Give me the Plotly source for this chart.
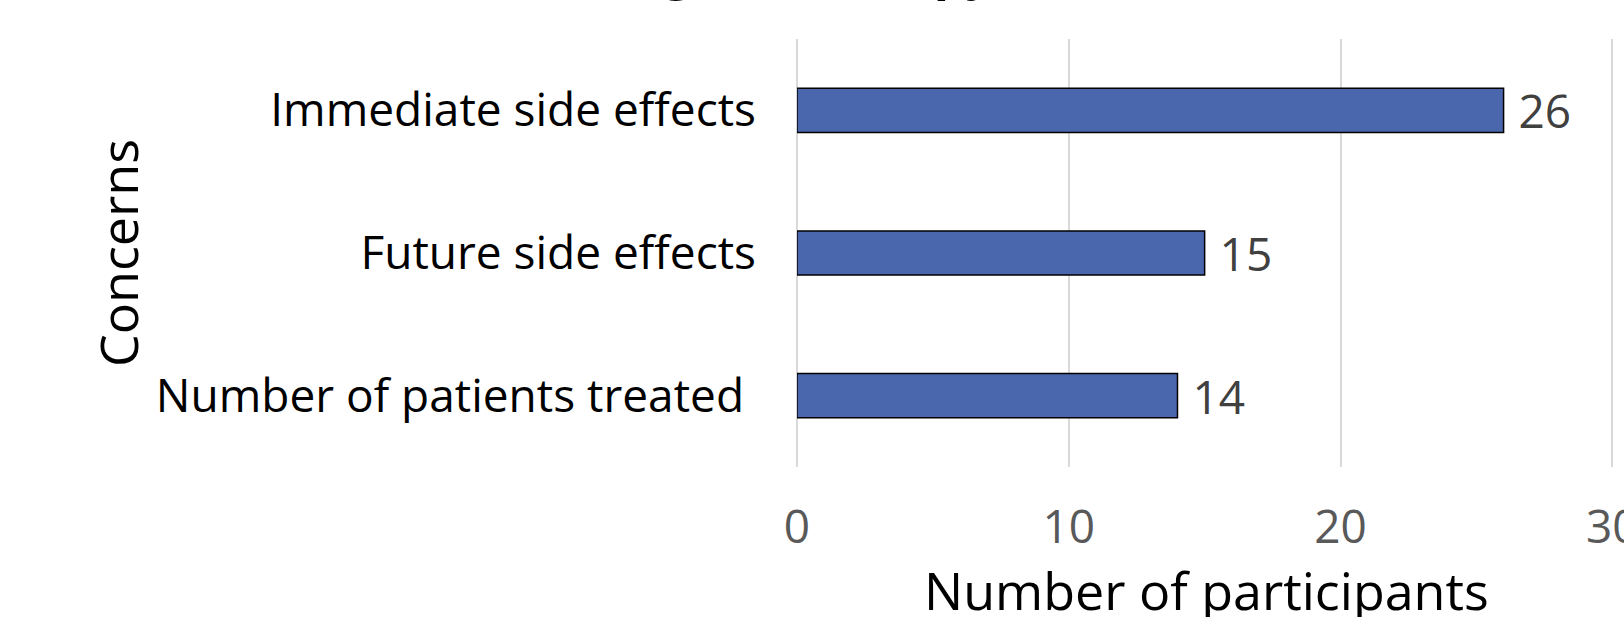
import plotly.graph_objects as go

categories = ["Immediate side effects", "Future side effects", "Number of patients treated\u00a0"]
values = [26, 15, 14]
x_ticks = [0, 10, 20, 30]
x_tick_labels = ["0", "10", "20", "30"]
title_text = "<b>Participants' concerns regarding<br>gene therapy</b>"
x_title = "Number of participants"
y_title = "Concerns"

FONT = "Open Sans"
FS = 46
FS_TITLE = 52

fig = go.Figure(
    go.Bar(
        y=categories,
        x=values,
        orientation="h",
        marker=dict(color="#4a66ad", line=dict(color="#000000", width=1.5)),
        texttemplate="\u00a0%{x}",
        textposition="outside",
        constraintext="none",
        textfont=dict(family=FONT, size=FS, color="#404040"),
        cliponaxis=False,
        width=0.31,
    )
)

fig.add_annotation(
    text=title_text,
    xref="paper",
    yref="paper",
    x=0.0386,
    y=1.0,
    xanchor="center",
    yanchor="bottom",
    yshift=33,
    showarrow=False,
    font=dict(family=FONT, size=50, color="#000000"),
)

fig.add_annotation(
    text=x_title,
    xref="paper",
    yref="paper",
    x=0.5,
    y=0.0,
    xanchor="center",
    yanchor="top",
    yshift=-85,
    showarrow=False,
    font=dict(family=FONT, size=FS_TITLE, color="#000000"),
)

fig.update_layout(
    width=1624,
    height=617,
    margin=dict(l=797, r=9, t=39, b=150, autoexpand=False),
    paper_bgcolor="white",
    plot_bgcolor="white",
    showlegend=False,
    font=dict(family=FONT, size=FS, color="#000000"),
    xaxis=dict(
        range=[0, 30.1],
        tickvals=x_ticks,
        ticktext=x_tick_labels,
        showgrid=True,
        gridcolor="#d9d9d9",
        gridwidth=1.5,
        zeroline=True,
        zerolinecolor="#d9d9d9",
        zerolinewidth=1.5,
        showline=False,
        ticks="",
        ticklabelstandoff=29,
        ticklabeloverflow="allow",
        tickfont=dict(family=FONT, size=FS, color="#595959"),
    ),
    yaxis=dict(
        autorange="reversed",
        showgrid=False,
        zeroline=False,
        showline=False,
        ticks="",
        ticklabelstandoff=40,
        tickfont=dict(family=FONT, size=FS, color="#000000"),
        title=dict(text=y_title, font=dict(family=FONT, size=FS_TITLE, color="#000000"), standoff=0),
    ),
)

fig.write_html("out.html")
